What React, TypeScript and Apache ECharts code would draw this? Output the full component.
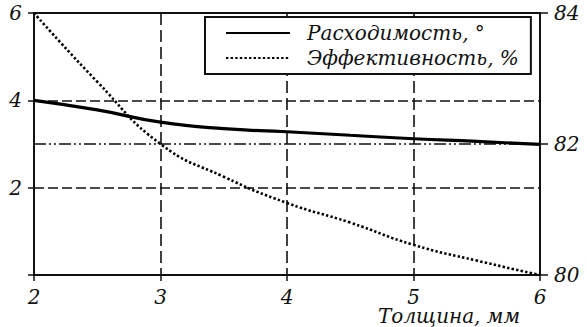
import React, { useEffect, useRef } from "react";
import * as echarts from "echarts";

const thickness = [2, 2.5, 3, 3.5, 4, 4.5, 5, 5.5, 6];
const divergence = [4.0, 3.78, 3.5, 3.35, 3.28, 3.2, 3.12, 3.06, 2.99];
const efficiency = [84.0, 82.95, 82.0, 81.5, 81.1, 80.8, 80.46, 80.22, 80.0];
const seriesNames = ["Расходимость, °", "Эффективность, %"];
const xAxisName = "Толщина, мм";

const FONT = "DejaVu Serif";
const FS = 20;

export default function App() {
  const ref = useRef<HTMLDivElement>(null);
  useEffect(() => {
    if (!ref.current) return;
    const chart = echarts.init(ref.current, null, { renderer: "svg" });
    const txt = { fontFamily: FONT, fontStyle: "italic", fontSize: FS, color: "#111" };
    chart.setOption({
      animation: false,
      textStyle: { fontFamily: FONT, fontStyle: "italic", fontSize: FS },
      grid: { left: 34, right: 47, top: 13, bottom: 52 },
      legend: {
        orient: "vertical",
        left: 205,
        top: 17,
        data: [{ name: seriesNames[0] }, { name: seriesNames[1] }],
        itemWidth: 64,
        itemHeight: 18,
        itemGap: 5,
        padding: [6, 12, 6, 20],
        borderColor: "#111",
        borderWidth: 2,
        backgroundColor: "#fff",
        itemStyle: { opacity: 0 },
        textStyle: { ...txt, padding: [0, 0, 0, 12] },
      },
      xAxis: [
        {
          type: "value",
          min: 2,
          max: 6,
          interval: 1,
          axisLine: { show: true, lineStyle: { color: "#111", width: 2 } },
          axisTick: { show: true, length: 6, lineStyle: { color: "#111", width: 1.5 } },
          axisLabel: { ...txt, margin: 12 },
          splitLine: { show: true, lineStyle: { color: "#111", width: 1.6, type: [12, 5] } },
        },
        {
          type: "value",
          position: "top",
          min: 2,
          max: 6,
          interval: 1,
          axisLine: { show: true, lineStyle: { color: "#111", width: 2 } },
          axisTick: { show: false },
          axisLabel: { show: false, ...txt },
          splitLine: { show: false },
        },
      ],
      yAxis: [
        {
          type: "value",
          min: 0,
          max: 6,
          interval: 2,
          axisLine: { show: true, lineStyle: { color: "#111", width: 2 } },
          axisTick: { show: true, length: 6, lineStyle: { color: "#111", width: 1.5 } },
          axisLabel: {
            ...txt,
            margin: 12,
            formatter: (v: number) => (v === 0 ? "" : String(v)),
          },
          splitLine: { show: true, lineStyle: { color: "#111", width: 1.6, type: [10, 4] } },
        },
        {
          type: "value",
          min: 80,
          max: 84,
          interval: 2,
          position: "right",
          axisLine: { show: true, lineStyle: { color: "#111", width: 2 } },
          axisTick: { show: true, length: 8, lineStyle: { color: "#111", width: 1.5 } },
          axisLabel: { ...txt, margin: 14 },
          splitLine: {
            show: true,
            lineStyle: { color: "#111", width: 1.5, type: [12, 3, 2, 3, 2, 3] },
          },
        },
      ],
      series: [
        {
          name: seriesNames[0],
          type: "line",
          xAxisIndex: 0,
          yAxisIndex: 0,
          smooth: true,
          symbol: "none",
          data: thickness.map((x, i) => [x, divergence[i]]),
          lineStyle: { color: "#000", width: 3.2 },
          itemStyle: { color: "#000" },
          z: 5,
        },
        {
          name: seriesNames[1],
          type: "line",
          xAxisIndex: 0,
          yAxisIndex: 1,
          smooth: true,
          symbol: "none",
          data: thickness.map((x, i) => [x, efficiency[i]]),
          lineStyle: { color: "#000", width: 2.6, type: [2.4, 2.2] },
          itemStyle: { color: "#000" },
          z: 5,
        },
      ],
      graphic: [
        {
          type: "text",
          right: 67,
          top: 306,
          style: {
            text: xAxisName,
            fontFamily: FONT,
            fontStyle: "italic",
            fontSize: FS,
            fill: "#111",
          },
        },
      ],
    });
    return () => chart.dispose();
  }, []);
  return (
    <div
      ref={ref}
      style={{ position: "fixed", left: 0, top: 0, width: 587, height: 327, background: "#fff" }}
    />
  );
}
